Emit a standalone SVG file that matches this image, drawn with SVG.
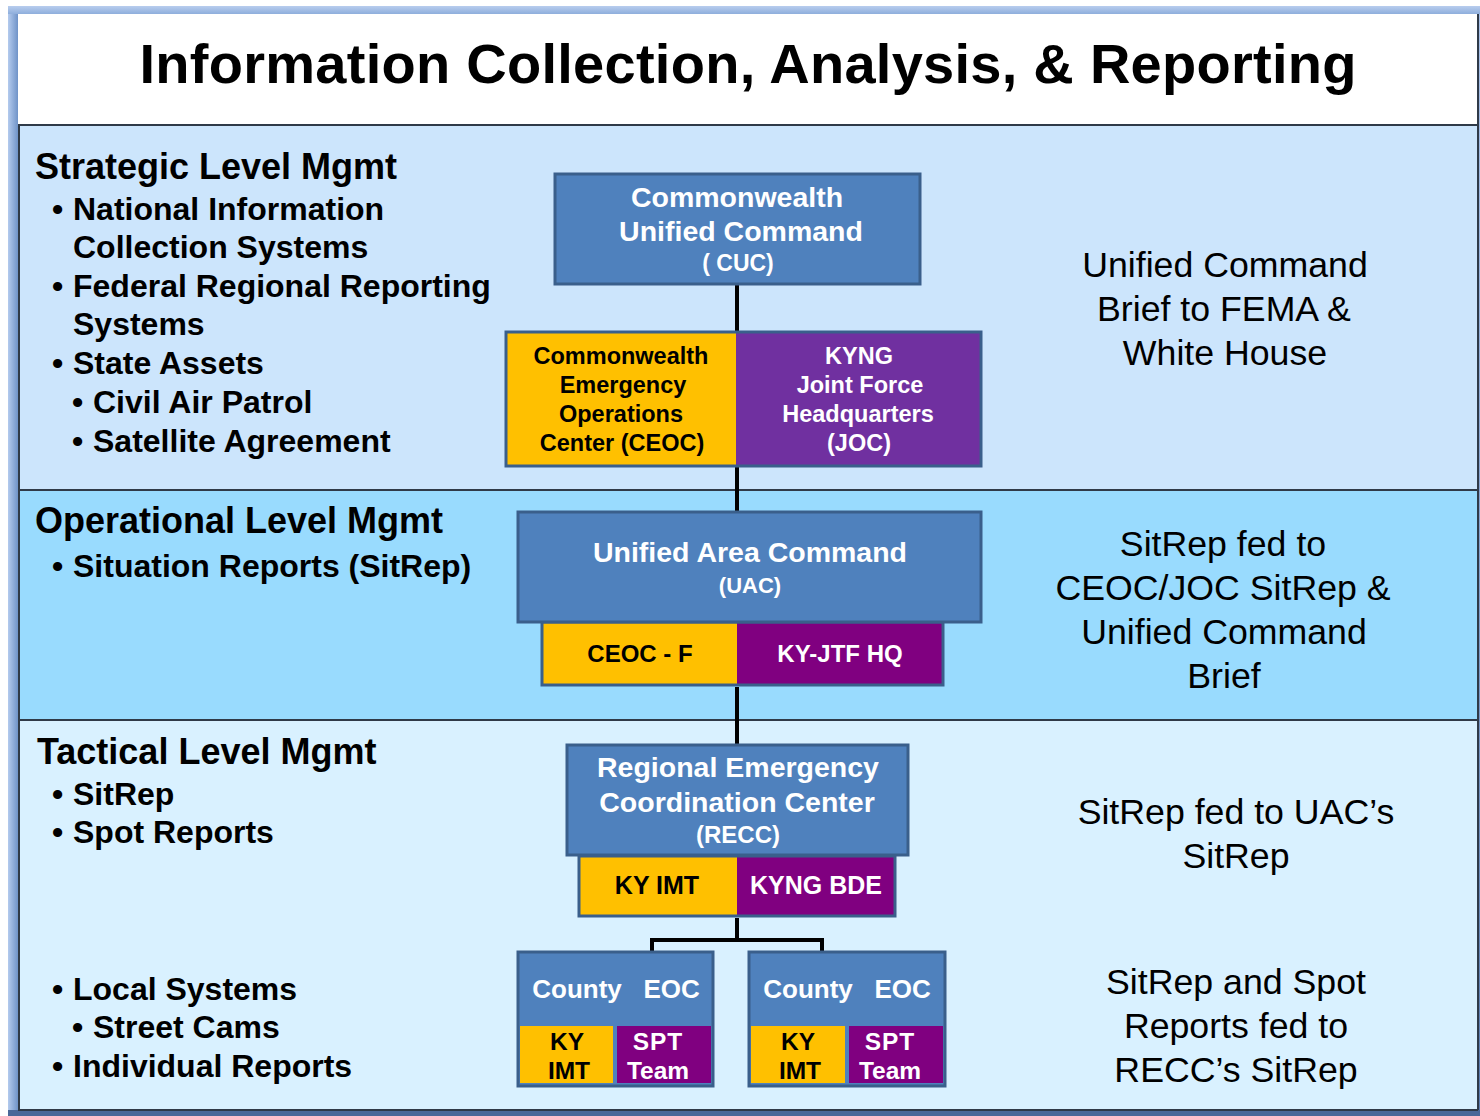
<svg xmlns="http://www.w3.org/2000/svg" width="1480" height="1116" viewBox="0 0 1480 1116">
<defs>
<linearGradient id="lstrip" x1="0" y1="0" x2="1" y2="0"><stop offset="0" stop-color="#b4cbee"/><stop offset="1" stop-color="#6f93c8"/></linearGradient>
<linearGradient id="tstrip" x1="0" y1="0" x2="0" y2="1"><stop offset="0" stop-color="#b8cdee"/><stop offset="1" stop-color="#8eaedc"/></linearGradient>
<linearGradient id="vstrip" x1="0" y1="0" x2="0" y2="1"><stop offset="0" stop-color="#a9c2ea"/><stop offset="1" stop-color="#5a7bb0"/></linearGradient>
</defs>
<style>
.lt{font-family:"Liberation Sans",Arial,sans-serif;font-weight:bold;fill:#000}
.rt{font-family:"Liberation Sans",Arial,sans-serif;font-size:35.7px;fill:#000;text-anchor:middle}
.nt{font-family:"Liberation Sans",Arial,sans-serif;font-weight:bold;text-anchor:middle}
.w{fill:#fff}
.k{fill:#000}
.blue{fill:#4f81bd;stroke:#3a5f8b;stroke-width:3}
.frame{fill:none;stroke:#3a5f8b;stroke-width:3}
.yel{fill:#ffc000}
.pur{fill:#7030a0}
.pur2{fill:#800080}
.conn{stroke:#000;stroke-width:4;fill:none}
</style>
<rect x="0" y="0" width="1480" height="1116" fill="#fff"/>
<!-- outer frame -->
<rect x="8" y="6" width="1472" height="1110" fill="url(#vstrip)"/>
<rect x="8" y="6" width="10" height="1110" fill="url(#lstrip)"/>
<rect x="8" y="6" width="1472" height="8" fill="url(#tstrip)"/>
<rect x="8" y="1110" width="1472" height="6" fill="#4a6898"/>
<!-- title -->
<rect x="18" y="14" width="1460" height="111" fill="#fff"/>
<text x="748" y="83" font-family="'Liberation Sans',Arial,sans-serif" font-weight="bold" font-size="56" text-anchor="middle" fill="#000" textLength="1217" lengthAdjust="spacing">Information Collection, Analysis, &amp; Reporting</text>
<!-- bands -->
<rect x="18" y="125" width="1460" height="365" fill="#cce5fc"/>
<rect x="18" y="490" width="1460" height="230" fill="#99dbfe"/>
<rect x="18" y="720" width="1460" height="390" fill="#d9f1ff"/>
<g stroke="#2f3a48" stroke-width="2" fill="none">
<line x1="18" y1="125" x2="1478" y2="125"/>
<line x1="18" y1="490" x2="1478" y2="490"/>
<line x1="18" y1="720" x2="1478" y2="720"/>
<line x1="18" y1="1110" x2="1478" y2="1110"/>
<line x1="19" y1="125" x2="19" y2="1110"/>
<line x1="1478" y1="14" x2="1478" y2="1110"/>
</g>
<!-- left texts -->
<g id="strategic-text" class="lt">
<text x="35" y="179" font-size="36">Strategic Level Mgmt</text>
<g font-size="32">
<text x="52" y="220">•</text><text x="73" y="220">National Information</text>
<text x="73" y="258">Collection Systems</text>
<text x="52" y="297">•</text><text x="73" y="297">Federal Regional Reporting</text>
<text x="73" y="335">Systems</text>
<text x="52" y="374">•</text><text x="73" y="374">State Assets</text>
<text x="72" y="413">•</text><text x="93" y="413">Civil Air Patrol</text>
<text x="72" y="452">•</text><text x="93" y="452">Satellite Agreement</text>
</g>
</g>
<g id="operational-text" class="lt">
<text x="35" y="533" font-size="36">Operational Level Mgmt</text>
<g font-size="32">
<text x="52" y="577">•</text><text x="73" y="577">Situation Reports (SitRep)</text>
</g>
</g>
<g id="tactical-text" class="lt">
<text x="37" y="764" font-size="36">Tactical Level Mgmt</text>
<g font-size="32">
<text x="52" y="805">•</text><text x="73" y="805">SitRep</text>
<text x="52" y="843">•</text><text x="73" y="843">Spot Reports</text>
<text x="52" y="1000">•</text><text x="73" y="1000">Local Systems</text>
<text x="72" y="1038">•</text><text x="93" y="1038">Street Cams</text>
<text x="52" y="1077">•</text><text x="73" y="1077">Individual Reports</text>
</g>
</g>
<!-- right texts -->
<g id="right-strategic" class="rt">
<text x="1225" y="277">Unified Command</text>
<text x="1224" y="321">Brief to FEMA &amp;</text>
<text x="1225" y="365">White House</text>
</g>
<g id="right-operational" class="rt">
<text x="1223" y="556">SitRep fed to</text>
<text x="1223" y="600">CEOC/JOC SitRep &amp;</text>
<text x="1224" y="644">Unified Command</text>
<text x="1224" y="688">Brief</text>
</g>
<g id="right-tactical" class="rt">
<text x="1236" y="824">SitRep fed to UAC’s</text>
<text x="1236" y="868">SitRep</text>
</g>
<g id="right-local" class="rt">
<text x="1236" y="994">SitRep and Spot</text>
<text x="1236" y="1038">Reports fed to</text>
<text x="1236" y="1082">RECC’s SitRep</text>
</g>
<!-- connectors -->
<g id="connectors" class="conn">
<line x1="737" y1="285" x2="737" y2="331"/>
<line x1="737" y1="467" x2="737" y2="512"/>
<line x1="737" y1="687" x2="737" y2="745"/>
<line x1="737" y1="918" x2="737" y2="940"/>
<polyline points="652,951 652,940 822,940 822,951"/>
</g>
<!-- CUC -->
<g id="cuc">
<rect class="blue" x="555" y="174" width="365" height="110"/>
<text class="nt w" x="737" y="207" font-size="28.5">Commonwealth</text>
<text class="nt w" x="741" y="241" font-size="28.5">Unified Command</text>
<text class="nt w" x="738" y="271" font-size="23">( CUC)</text>
</g>
<!-- CEOC / JOC -->
<g id="ceoc-joc">
<rect class="yel" x="506" y="332" width="230" height="134"/>
<rect class="pur" x="736" y="332" width="245" height="134"/>
<rect class="frame" x="506" y="332" width="475" height="134"/>
<g class="nt k" font-size="23.5">
<text x="621" y="364">Commonwealth</text>
<text x="623" y="393">Emergency</text>
<text x="621" y="422">Operations</text>
<text x="622" y="451">Center (CEOC)</text>
</g>
<g class="nt w" font-size="23.5">
<text x="859" y="364">KYNG</text>
<text x="860" y="393">Joint Force</text>
<text x="858" y="422">Headquarters</text>
<text x="859" y="451">(JOC)</text>
</g>
</g>
<!-- UAC -->
<g id="uac">
<rect class="yel" x="542" y="622" width="195" height="63"/>
<rect class="pur2" x="737" y="622" width="206" height="63"/>
<rect class="frame" x="542" y="622" width="401" height="63"/>
<rect class="blue" x="518" y="512" width="463" height="110"/>
<text class="nt w" x="750" y="562" font-size="28.5">Unified Area Command</text>
<text class="nt w" x="750" y="593" font-size="22">(UAC)</text>
<text class="nt k" x="640" y="662" font-size="24">CEOC - F</text>
<text class="nt w" x="840" y="662" font-size="24">KY-JTF HQ</text>
</g>
<!-- RECC -->
<g id="recc">
<rect class="yel" x="579" y="856" width="158" height="60"/>
<rect class="pur2" x="737" y="856" width="158" height="60"/>
<rect class="frame" x="579" y="856" width="316" height="60"/>
<rect class="blue" x="567" y="745" width="341" height="110"/>
<text class="nt w" x="738" y="777" font-size="28.5">Regional Emergency</text>
<text class="nt w" x="737" y="812" font-size="28.5">Coordination Center</text>
<text class="nt w" x="738" y="843" font-size="24">(RECC)</text>
<text class="nt k" x="657" y="894" font-size="25">KY IMT</text>
<text class="nt w" x="816" y="894" font-size="25">KYNG BDE</text>
</g>
<!-- County EOC left -->
<g id="county-eoc-1">
<rect class="blue" x="518" y="952" width="195" height="134"/>
<rect class="yel" x="520" y="1026" width="93" height="57"/>
<rect class="pur2" x="617" y="1026" width="94" height="57"/>
<text class="nt w" x="616" y="998" font-size="26" xml:space="preserve">County   EOC</text>
<text class="nt k" x="567" y="1050" font-size="24.5">KY</text>
<text class="nt k" x="569" y="1079" font-size="24.5">IMT</text>
<text class="nt w" x="658" y="1050" font-size="24.5" letter-spacing="1">SPT</text>
<text class="nt w" x="658" y="1079" font-size="24.5">Team</text>
</g>
<!-- County EOC right -->
<g id="county-eoc-2">
<rect class="blue" x="749" y="952" width="196" height="134"/>
<rect class="yel" x="751" y="1026" width="94" height="57"/>
<rect class="pur2" x="849" y="1026" width="94" height="57"/>
<text class="nt w" x="847" y="998" font-size="26" xml:space="preserve">County   EOC</text>
<text class="nt k" x="798" y="1050" font-size="24.5">KY</text>
<text class="nt k" x="800" y="1079" font-size="24.5">IMT</text>
<text class="nt w" x="890" y="1050" font-size="24.5" letter-spacing="1">SPT</text>
<text class="nt w" x="890" y="1079" font-size="24.5">Team</text>
</g>
</svg>
